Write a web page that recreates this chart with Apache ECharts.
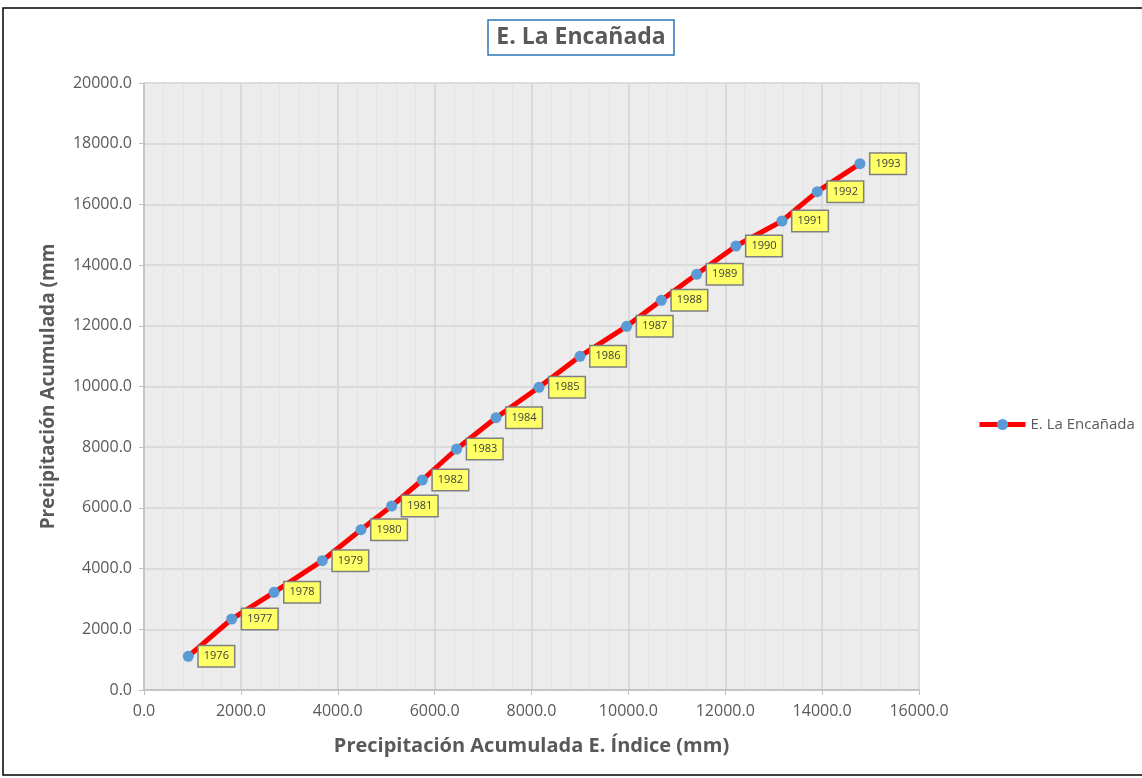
<!DOCTYPE html>
<html><head><meta charset="utf-8">
<script src="https://cdn.jsdelivr.net/npm/echarts@6/dist/echarts.min.js"></script>
<style>html,body{margin:0;padding:0;background:#fff}#c{width:1142px;height:778px}</style>
</head><body><div id="c"></div>
<script>
const years = ['1976','1977','1978','1979','1980','1981','1982','1983','1984','1985','1986','1987','1988','1989','1990','1991','1992','1993'];
const indexAcc = [914,1810,2684,3681,4480,5113,5746,6455,7267,8154,9001,9964,10680,11409,12221,13171,13900,14781];
const stationAcc = [1110,2339,3219,4261,5282,6063,6919,7941,8973,9973,10995,11983,12839,13696,14629,15453,16419,17342];
const seriesName = 'E. La Encañada';
const xTitle = 'Precipitación Acumulada E. Índice (mm)';
const yTitle = 'Precipitación Acumulada (mm';

const FONT = '"Open Sans", "Liberation Sans", sans-serif';
const data = indexAcc.map((x, i) => [x, stationAcc[i], years[i]]);
const chart = echarts.init(document.getElementById('c'), null, {renderer: 'canvas'});
chart.setOption({
  animation: false,
  backgroundColor: '#fff',
  title: {
    text: seriesName, left: 572, top: 20, textAlign: 'center',
    textStyle: {fontFamily: FONT, fontSize: 23, fontWeight: 'bold', color: '#595959'},
    borderColor: '#2e75b6', borderWidth: 1.5, padding: [6, 9, 6, 9]
  },
  graphic: [{type: 'rect', shape: {x: 3, y: 8, width: 1160, height: 767}, style: {fill: 'none', stroke: '#000', lineWidth: 1.5}, silent: true}],
  legend: {
    left: 972, top: 412, itemWidth: 46, itemHeight: 14, itemGap: 2,
    textStyle: {fontFamily: FONT, fontSize: 15, color: '#595959'},
    lineStyle: {width: 5},
    data: [seriesName]
  },
  grid: {left: 144, top: 83, width: 775, height: 607, show: true, backgroundColor: '#ececec', borderWidth: 0},
  xAxis: {
    type: 'value', min: 0, max: 16000, interval: 2000,
    name: xTitle, nameLocation: 'middle', nameGap: 46,
    nameTextStyle: {fontFamily: FONT, fontSize: 20, fontWeight: 'bold', color: '#595959'},
    axisLine: {show: true, lineStyle: {color: '#bfbfbf', width: 1.5}},
    axisTick: {show: true, length: 5, lineStyle: {color: '#bfbfbf'}},
    axisLabel: {fontFamily: FONT, fontSize: 16, color: '#595959', margin: 13, formatter: v => v.toFixed(1)},
    splitLine: {show: true, lineStyle: {color: '#d4d4d4', width: 1.5}},
    minorTick: {show: false, splitNumber: 5},
    minorSplitLine: {show: true, lineStyle: {color: '#e2e2e2', width: 1}}
  },
  yAxis: {
    type: 'value', min: 0, max: 20000, interval: 2000,
    name: yTitle, nameLocation: 'middle', nameGap: 86, nameRotate: 90,
    nameTextStyle: {fontFamily: FONT, fontSize: 19, fontWeight: 'bold', color: '#595959'},
    axisLine: {show: true, lineStyle: {color: '#bfbfbf', width: 1.5}},
    axisTick: {show: true, length: 5, lineStyle: {color: '#bfbfbf'}},
    axisLabel: {fontFamily: FONT, fontSize: 16, color: '#595959', margin: 12, formatter: v => v.toFixed(1)},
    splitLine: {show: true, lineStyle: {color: '#d4d4d4', width: 1.5}}
  },
  series: [{
    name: seriesName, type: 'line', data: data,
    symbol: 'circle', symbolSize: 11,
    lineStyle: {color: '#ff0000', width: 5},
    itemStyle: {color: '#5b9bd5'},
    label: {
      show: true, position: 'right', offset: [0, 0],
      formatter: p => p.data[2],
      fontFamily: FONT, fontSize: 11, color: '#404040',
      backgroundColor: '#ffff66', borderColor: '#7f7f7f', borderWidth: 1.5,
      padding: [5, 5, 4, 5]
    },
    z: 3
  }]
});
</script></body></html>
